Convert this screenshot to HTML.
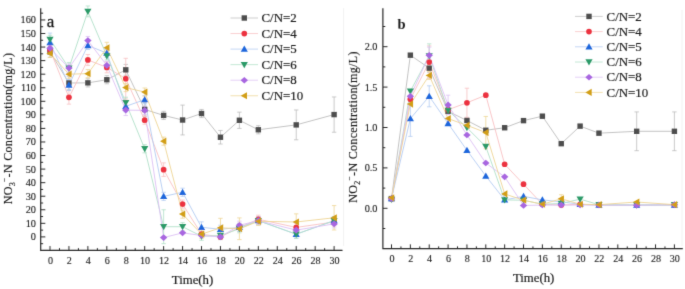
<!DOCTYPE html>
<html><head><meta charset="utf-8"><title>chart</title>
<style>html,body{margin:0;padding:0;background:#fff;width:685px;height:289px;overflow:hidden}svg{display:block}</style>
</head><body><svg width="685" height="289" viewBox="0 0 685 289">
<defs><filter id="bl" x="0" y="0" width="685" height="289" filterUnits="userSpaceOnUse"><feConvolveMatrix order="3" kernelMatrix="0.01134 0.08382 0.01134 0.08382 0.61935 0.08382 0.01134 0.08382 0.01134" divisor="1" edgeMode="duplicate" preserveAlpha="false"/></filter></defs>
<rect width="685" height="289" fill="#fff"/>
<g filter="url(#bl)">
<line x1="343.6" y1="8" x2="343.6" y2="246" stroke="#eeeeee" stroke-width="0.8"/>
<line x1="682" y1="10" x2="682" y2="246" stroke="#eeeeee" stroke-width="0.8"/>
<path d="M40.7,8.3V250.3H342.5" stroke="#2a2a2a" stroke-width="1.2" fill="none"/>
<line x1="40.7" y1="243.68" x2="43.1" y2="243.68" stroke="#2a2a2a" stroke-width="1"/>
<line x1="40.7" y1="236.90" x2="45.300000000000004" y2="236.90" stroke="#2a2a2a" stroke-width="1"/>
<text transform="translate(36.00,240.40) scale(1,1.1)" text-anchor="end" font-family="Liberation Serif, serif" font-size="10.3" fill="#1e1e1e" stroke="#1e1e1e" stroke-width="0.12">0</text>
<line x1="40.7" y1="230.12" x2="43.1" y2="230.12" stroke="#2a2a2a" stroke-width="1"/>
<line x1="40.7" y1="223.34" x2="45.300000000000004" y2="223.34" stroke="#2a2a2a" stroke-width="1"/>
<text transform="translate(36.00,226.84) scale(1,1.1)" text-anchor="end" font-family="Liberation Serif, serif" font-size="10.3" fill="#1e1e1e" stroke="#1e1e1e" stroke-width="0.12">10</text>
<line x1="40.7" y1="216.56" x2="43.1" y2="216.56" stroke="#2a2a2a" stroke-width="1"/>
<line x1="40.7" y1="209.78" x2="45.300000000000004" y2="209.78" stroke="#2a2a2a" stroke-width="1"/>
<text transform="translate(36.00,213.28) scale(1,1.1)" text-anchor="end" font-family="Liberation Serif, serif" font-size="10.3" fill="#1e1e1e" stroke="#1e1e1e" stroke-width="0.12">20</text>
<line x1="40.7" y1="203.00" x2="43.1" y2="203.00" stroke="#2a2a2a" stroke-width="1"/>
<line x1="40.7" y1="196.22" x2="45.300000000000004" y2="196.22" stroke="#2a2a2a" stroke-width="1"/>
<text transform="translate(36.00,199.72) scale(1,1.1)" text-anchor="end" font-family="Liberation Serif, serif" font-size="10.3" fill="#1e1e1e" stroke="#1e1e1e" stroke-width="0.12">30</text>
<line x1="40.7" y1="189.44" x2="43.1" y2="189.44" stroke="#2a2a2a" stroke-width="1"/>
<line x1="40.7" y1="182.66" x2="45.300000000000004" y2="182.66" stroke="#2a2a2a" stroke-width="1"/>
<text transform="translate(36.00,186.16) scale(1,1.1)" text-anchor="end" font-family="Liberation Serif, serif" font-size="10.3" fill="#1e1e1e" stroke="#1e1e1e" stroke-width="0.12">40</text>
<line x1="40.7" y1="175.88" x2="43.1" y2="175.88" stroke="#2a2a2a" stroke-width="1"/>
<line x1="40.7" y1="169.10" x2="45.300000000000004" y2="169.10" stroke="#2a2a2a" stroke-width="1"/>
<text transform="translate(36.00,172.60) scale(1,1.1)" text-anchor="end" font-family="Liberation Serif, serif" font-size="10.3" fill="#1e1e1e" stroke="#1e1e1e" stroke-width="0.12">50</text>
<line x1="40.7" y1="162.32" x2="43.1" y2="162.32" stroke="#2a2a2a" stroke-width="1"/>
<line x1="40.7" y1="155.54" x2="45.300000000000004" y2="155.54" stroke="#2a2a2a" stroke-width="1"/>
<text transform="translate(36.00,159.04) scale(1,1.1)" text-anchor="end" font-family="Liberation Serif, serif" font-size="10.3" fill="#1e1e1e" stroke="#1e1e1e" stroke-width="0.12">60</text>
<line x1="40.7" y1="148.76" x2="43.1" y2="148.76" stroke="#2a2a2a" stroke-width="1"/>
<line x1="40.7" y1="141.98" x2="45.300000000000004" y2="141.98" stroke="#2a2a2a" stroke-width="1"/>
<text transform="translate(36.00,145.48) scale(1,1.1)" text-anchor="end" font-family="Liberation Serif, serif" font-size="10.3" fill="#1e1e1e" stroke="#1e1e1e" stroke-width="0.12">70</text>
<line x1="40.7" y1="135.20" x2="43.1" y2="135.20" stroke="#2a2a2a" stroke-width="1"/>
<line x1="40.7" y1="128.42" x2="45.300000000000004" y2="128.42" stroke="#2a2a2a" stroke-width="1"/>
<text transform="translate(36.00,131.92) scale(1,1.1)" text-anchor="end" font-family="Liberation Serif, serif" font-size="10.3" fill="#1e1e1e" stroke="#1e1e1e" stroke-width="0.12">80</text>
<line x1="40.7" y1="121.64" x2="43.1" y2="121.64" stroke="#2a2a2a" stroke-width="1"/>
<line x1="40.7" y1="114.86" x2="45.300000000000004" y2="114.86" stroke="#2a2a2a" stroke-width="1"/>
<text transform="translate(36.00,118.36) scale(1,1.1)" text-anchor="end" font-family="Liberation Serif, serif" font-size="10.3" fill="#1e1e1e" stroke="#1e1e1e" stroke-width="0.12">90</text>
<line x1="40.7" y1="108.08" x2="43.1" y2="108.08" stroke="#2a2a2a" stroke-width="1"/>
<line x1="40.7" y1="101.30" x2="45.300000000000004" y2="101.30" stroke="#2a2a2a" stroke-width="1"/>
<text transform="translate(36.00,104.80) scale(1,1.1)" text-anchor="end" font-family="Liberation Serif, serif" font-size="10.3" fill="#1e1e1e" stroke="#1e1e1e" stroke-width="0.12">100</text>
<line x1="40.7" y1="94.52" x2="43.1" y2="94.52" stroke="#2a2a2a" stroke-width="1"/>
<line x1="40.7" y1="87.74" x2="45.300000000000004" y2="87.74" stroke="#2a2a2a" stroke-width="1"/>
<text transform="translate(36.00,91.24) scale(1,1.1)" text-anchor="end" font-family="Liberation Serif, serif" font-size="10.3" fill="#1e1e1e" stroke="#1e1e1e" stroke-width="0.12">110</text>
<line x1="40.7" y1="80.96" x2="43.1" y2="80.96" stroke="#2a2a2a" stroke-width="1"/>
<line x1="40.7" y1="74.18" x2="45.300000000000004" y2="74.18" stroke="#2a2a2a" stroke-width="1"/>
<text transform="translate(36.00,77.68) scale(1,1.1)" text-anchor="end" font-family="Liberation Serif, serif" font-size="10.3" fill="#1e1e1e" stroke="#1e1e1e" stroke-width="0.12">120</text>
<line x1="40.7" y1="67.40" x2="43.1" y2="67.40" stroke="#2a2a2a" stroke-width="1"/>
<line x1="40.7" y1="60.62" x2="45.300000000000004" y2="60.62" stroke="#2a2a2a" stroke-width="1"/>
<text transform="translate(36.00,64.12) scale(1,1.1)" text-anchor="end" font-family="Liberation Serif, serif" font-size="10.3" fill="#1e1e1e" stroke="#1e1e1e" stroke-width="0.12">130</text>
<line x1="40.7" y1="53.84" x2="43.1" y2="53.84" stroke="#2a2a2a" stroke-width="1"/>
<line x1="40.7" y1="47.06" x2="45.300000000000004" y2="47.06" stroke="#2a2a2a" stroke-width="1"/>
<text transform="translate(36.00,50.56) scale(1,1.1)" text-anchor="end" font-family="Liberation Serif, serif" font-size="10.3" fill="#1e1e1e" stroke="#1e1e1e" stroke-width="0.12">140</text>
<line x1="40.7" y1="40.28" x2="43.1" y2="40.28" stroke="#2a2a2a" stroke-width="1"/>
<line x1="40.7" y1="33.50" x2="45.300000000000004" y2="33.50" stroke="#2a2a2a" stroke-width="1"/>
<text transform="translate(36.00,37.00) scale(1,1.1)" text-anchor="end" font-family="Liberation Serif, serif" font-size="10.3" fill="#1e1e1e" stroke="#1e1e1e" stroke-width="0.12">150</text>
<line x1="40.7" y1="26.72" x2="43.1" y2="26.72" stroke="#2a2a2a" stroke-width="1"/>
<line x1="40.7" y1="19.94" x2="45.300000000000004" y2="19.94" stroke="#2a2a2a" stroke-width="1"/>
<text transform="translate(36.00,23.44) scale(1,1.1)" text-anchor="end" font-family="Liberation Serif, serif" font-size="10.3" fill="#1e1e1e" stroke="#1e1e1e" stroke-width="0.12">160</text>
<line x1="40.7" y1="13.16" x2="43.1" y2="13.16" stroke="#2a2a2a" stroke-width="1"/>
<line x1="50.00" y1="250.3" x2="50.00" y2="246.10000000000002" stroke="#2a2a2a" stroke-width="1"/>
<text transform="translate(50.40,263.70) scale(1,1.12)" text-anchor="middle" font-family="Liberation Serif, serif" font-size="10.1" fill="#1e1e1e" stroke="#1e1e1e" stroke-width="0.12">0</text>
<line x1="59.47" y1="250.3" x2="59.47" y2="248.10000000000002" stroke="#2a2a2a" stroke-width="1"/>
<line x1="68.94" y1="250.3" x2="68.94" y2="246.10000000000002" stroke="#2a2a2a" stroke-width="1"/>
<text transform="translate(69.34,263.70) scale(1,1.12)" text-anchor="middle" font-family="Liberation Serif, serif" font-size="10.1" fill="#1e1e1e" stroke="#1e1e1e" stroke-width="0.12">2</text>
<line x1="78.41" y1="250.3" x2="78.41" y2="248.10000000000002" stroke="#2a2a2a" stroke-width="1"/>
<line x1="87.88" y1="250.3" x2="87.88" y2="246.10000000000002" stroke="#2a2a2a" stroke-width="1"/>
<text transform="translate(88.28,263.70) scale(1,1.12)" text-anchor="middle" font-family="Liberation Serif, serif" font-size="10.1" fill="#1e1e1e" stroke="#1e1e1e" stroke-width="0.12">4</text>
<line x1="97.35" y1="250.3" x2="97.35" y2="248.10000000000002" stroke="#2a2a2a" stroke-width="1"/>
<line x1="106.82" y1="250.3" x2="106.82" y2="246.10000000000002" stroke="#2a2a2a" stroke-width="1"/>
<text transform="translate(107.22,263.70) scale(1,1.12)" text-anchor="middle" font-family="Liberation Serif, serif" font-size="10.1" fill="#1e1e1e" stroke="#1e1e1e" stroke-width="0.12">6</text>
<line x1="116.29" y1="250.3" x2="116.29" y2="248.10000000000002" stroke="#2a2a2a" stroke-width="1"/>
<line x1="125.76" y1="250.3" x2="125.76" y2="246.10000000000002" stroke="#2a2a2a" stroke-width="1"/>
<text transform="translate(126.16,263.70) scale(1,1.12)" text-anchor="middle" font-family="Liberation Serif, serif" font-size="10.1" fill="#1e1e1e" stroke="#1e1e1e" stroke-width="0.12">8</text>
<line x1="135.23" y1="250.3" x2="135.23" y2="248.10000000000002" stroke="#2a2a2a" stroke-width="1"/>
<line x1="144.70" y1="250.3" x2="144.70" y2="246.10000000000002" stroke="#2a2a2a" stroke-width="1"/>
<text transform="translate(145.10,263.70) scale(1,1.12)" text-anchor="middle" font-family="Liberation Serif, serif" font-size="10.1" fill="#1e1e1e" stroke="#1e1e1e" stroke-width="0.12">10</text>
<line x1="154.17" y1="250.3" x2="154.17" y2="248.10000000000002" stroke="#2a2a2a" stroke-width="1"/>
<line x1="163.64" y1="250.3" x2="163.64" y2="246.10000000000002" stroke="#2a2a2a" stroke-width="1"/>
<text transform="translate(164.04,263.70) scale(1,1.12)" text-anchor="middle" font-family="Liberation Serif, serif" font-size="10.1" fill="#1e1e1e" stroke="#1e1e1e" stroke-width="0.12">12</text>
<line x1="173.11" y1="250.3" x2="173.11" y2="248.10000000000002" stroke="#2a2a2a" stroke-width="1"/>
<line x1="182.58" y1="250.3" x2="182.58" y2="246.10000000000002" stroke="#2a2a2a" stroke-width="1"/>
<text transform="translate(182.98,263.70) scale(1,1.12)" text-anchor="middle" font-family="Liberation Serif, serif" font-size="10.1" fill="#1e1e1e" stroke="#1e1e1e" stroke-width="0.12">14</text>
<line x1="192.05" y1="250.3" x2="192.05" y2="248.10000000000002" stroke="#2a2a2a" stroke-width="1"/>
<line x1="201.52" y1="250.3" x2="201.52" y2="246.10000000000002" stroke="#2a2a2a" stroke-width="1"/>
<text transform="translate(201.92,263.70) scale(1,1.12)" text-anchor="middle" font-family="Liberation Serif, serif" font-size="10.1" fill="#1e1e1e" stroke="#1e1e1e" stroke-width="0.12">16</text>
<line x1="210.99" y1="250.3" x2="210.99" y2="248.10000000000002" stroke="#2a2a2a" stroke-width="1"/>
<line x1="220.46" y1="250.3" x2="220.46" y2="246.10000000000002" stroke="#2a2a2a" stroke-width="1"/>
<text transform="translate(220.86,263.70) scale(1,1.12)" text-anchor="middle" font-family="Liberation Serif, serif" font-size="10.1" fill="#1e1e1e" stroke="#1e1e1e" stroke-width="0.12">18</text>
<line x1="229.93" y1="250.3" x2="229.93" y2="248.10000000000002" stroke="#2a2a2a" stroke-width="1"/>
<line x1="239.40" y1="250.3" x2="239.40" y2="246.10000000000002" stroke="#2a2a2a" stroke-width="1"/>
<text transform="translate(239.80,263.70) scale(1,1.12)" text-anchor="middle" font-family="Liberation Serif, serif" font-size="10.1" fill="#1e1e1e" stroke="#1e1e1e" stroke-width="0.12">20</text>
<line x1="248.87" y1="250.3" x2="248.87" y2="248.10000000000002" stroke="#2a2a2a" stroke-width="1"/>
<line x1="258.34" y1="250.3" x2="258.34" y2="246.10000000000002" stroke="#2a2a2a" stroke-width="1"/>
<text transform="translate(258.74,263.70) scale(1,1.12)" text-anchor="middle" font-family="Liberation Serif, serif" font-size="10.1" fill="#1e1e1e" stroke="#1e1e1e" stroke-width="0.12">22</text>
<line x1="267.81" y1="250.3" x2="267.81" y2="248.10000000000002" stroke="#2a2a2a" stroke-width="1"/>
<line x1="277.28" y1="250.3" x2="277.28" y2="246.10000000000002" stroke="#2a2a2a" stroke-width="1"/>
<text transform="translate(277.68,263.70) scale(1,1.12)" text-anchor="middle" font-family="Liberation Serif, serif" font-size="10.1" fill="#1e1e1e" stroke="#1e1e1e" stroke-width="0.12">24</text>
<line x1="286.75" y1="250.3" x2="286.75" y2="248.10000000000002" stroke="#2a2a2a" stroke-width="1"/>
<line x1="296.22" y1="250.3" x2="296.22" y2="246.10000000000002" stroke="#2a2a2a" stroke-width="1"/>
<text transform="translate(296.62,263.70) scale(1,1.12)" text-anchor="middle" font-family="Liberation Serif, serif" font-size="10.1" fill="#1e1e1e" stroke="#1e1e1e" stroke-width="0.12">26</text>
<line x1="305.69" y1="250.3" x2="305.69" y2="248.10000000000002" stroke="#2a2a2a" stroke-width="1"/>
<line x1="315.16" y1="250.3" x2="315.16" y2="246.10000000000002" stroke="#2a2a2a" stroke-width="1"/>
<text transform="translate(315.56,263.70) scale(1,1.12)" text-anchor="middle" font-family="Liberation Serif, serif" font-size="10.1" fill="#1e1e1e" stroke="#1e1e1e" stroke-width="0.12">28</text>
<line x1="324.63" y1="250.3" x2="324.63" y2="248.10000000000002" stroke="#2a2a2a" stroke-width="1"/>
<line x1="334.10" y1="250.3" x2="334.10" y2="246.10000000000002" stroke="#2a2a2a" stroke-width="1"/>
<text transform="translate(334.50,263.70) scale(1,1.12)" text-anchor="middle" font-family="Liberation Serif, serif" font-size="10.1" fill="#1e1e1e" stroke="#1e1e1e" stroke-width="0.12">30</text>
<text transform="translate(171.80,284.20) scale(1,1.03)" text-anchor="start" font-family="Liberation Serif, serif" font-size="12.8" fill="#1e1e1e" stroke="#1e1e1e" stroke-width="0.2">Time(h)</text>
<text x="46.7" y="26.6" font-family="Liberation Serif, serif" font-size="17" fill="#1a1a1a" stroke="#1a1a1a" stroke-width="0.3">a</text>
<text transform="translate(12.4,128.5) rotate(-90) scale(0.93,1)" text-anchor="middle" font-family="Liberation Serif, serif" font-size="13.0" letter-spacing="0.3" fill="#1e1e1e" stroke="#1e1e1e" stroke-width="0.15">NO<tspan font-size="8.6" dy="3.0">3</tspan><tspan font-size="8" dy="-8.0" dx="0">−</tspan><tspan dy="5.0" dx="0">-N Concentration(mg/L)</tspan></text>
<polyline points="50.00,51.81 68.94,82.99 87.88,82.86 106.82,79.74 125.76,69.84 144.70,109.44 163.64,115.40 182.58,120.01 201.52,113.50 220.46,137.23 239.40,120.28 258.34,129.78 296.22,124.89 334.10,114.59" fill="none" stroke="#bcbcbc" stroke-width="0.9"/>
<polyline points="50.00,49.77 68.94,97.37 87.88,59.94 106.82,67.40 125.76,78.65 144.70,120.15 163.64,169.64 182.58,204.08 201.52,234.19 220.46,236.90 239.40,227.41 258.34,219.27 296.22,227.41 334.10,221.98" fill="none" stroke="#f8c0c2" stroke-width="0.9"/>
<polyline points="50.00,42.59 68.94,85.03 87.88,45.43 106.82,53.16 125.76,106.32 144.70,99.67 163.64,196.36 182.58,192.29 201.52,227.27 220.46,229.31 239.40,227.41 258.34,220.63 296.22,234.19 334.10,220.63" fill="none" stroke="#b2cbf2" stroke-width="0.9"/>
<polyline points="50.00,39.33 68.94,68.08 87.88,11.40 106.82,55.87 125.76,102.66 144.70,148.76 163.64,226.73 182.58,226.73 201.52,236.22 220.46,235.54 239.40,228.76 258.34,220.63 296.22,234.19 334.10,220.63" fill="none" stroke="#b0e0c8" stroke-width="0.9"/>
<polyline points="50.00,48.14 68.94,68.08 87.88,40.55 106.82,65.37 125.76,110.11 144.70,110.39 163.64,237.58 182.58,232.83 201.52,235.54 220.46,236.90 239.40,225.24 258.34,220.63 296.22,230.12 334.10,223.88" fill="none" stroke="#dcc0f4" stroke-width="0.9"/>
<polyline points="50.00,53.43 68.94,74.18 87.88,73.64 106.82,47.74 125.76,87.60 144.70,92.08 163.64,141.17 182.58,214.12 201.52,234.19 220.46,227.81 239.40,228.76 258.34,221.31 296.22,221.98 334.10,217.78" fill="none" stroke="#eed594" stroke-width="0.9"/>
<path d="M50.00,46.38V57.23M47.80,46.38H52.20M47.80,57.23H52.20" stroke="#bcbcbc" stroke-width="0.8" fill="none"/>
<path d="M68.94,76.21V89.77M66.74,76.21H71.14M66.74,89.77H71.14" stroke="#bcbcbc" stroke-width="0.8" fill="none"/>
<path d="M87.88,78.79V86.93M85.68,78.79H90.08M85.68,86.93H90.08" stroke="#bcbcbc" stroke-width="0.8" fill="none"/>
<path d="M106.82,75.67V83.81M104.62,75.67H109.02M104.62,83.81H109.02" stroke="#bcbcbc" stroke-width="0.8" fill="none"/>
<path d="M125.76,64.42V75.26M123.56,64.42H127.96M123.56,75.26H127.96" stroke="#bcbcbc" stroke-width="0.8" fill="none"/>
<path d="M144.70,102.66V116.22M142.50,102.66H146.90M142.50,116.22H146.90" stroke="#bcbcbc" stroke-width="0.8" fill="none"/>
<path d="M163.64,111.33V119.47M161.44,111.33H165.84M161.44,119.47H165.84" stroke="#bcbcbc" stroke-width="0.8" fill="none"/>
<path d="M182.58,105.10V134.93M180.38,105.10H184.78M180.38,134.93H184.78" stroke="#bcbcbc" stroke-width="0.8" fill="none"/>
<path d="M201.52,109.44V117.57M199.32,109.44H203.72M199.32,117.57H203.72" stroke="#bcbcbc" stroke-width="0.8" fill="none"/>
<path d="M220.46,130.45V144.01M218.26,130.45H222.66M218.26,144.01H222.66" stroke="#bcbcbc" stroke-width="0.8" fill="none"/>
<path d="M239.40,112.15V128.42M237.20,112.15H241.60M237.20,128.42H241.60" stroke="#bcbcbc" stroke-width="0.8" fill="none"/>
<path d="M258.34,125.71V133.84M256.14,125.71H260.54M256.14,133.84H260.54" stroke="#bcbcbc" stroke-width="0.8" fill="none"/>
<path d="M296.22,109.98V139.81M294.02,109.98H298.42M294.02,139.81H298.42" stroke="#bcbcbc" stroke-width="0.8" fill="none"/>
<path d="M334.10,96.96V132.22M331.90,96.96H336.30M331.90,132.22H336.30" stroke="#bcbcbc" stroke-width="0.8" fill="none"/>
<path d="M50.00,45.70V53.84M47.80,45.70H52.20M47.80,53.84H52.20" stroke="#f8c0c2" stroke-width="0.8" fill="none"/>
<path d="M68.94,90.59V104.15M66.74,90.59H71.14M66.74,104.15H71.14" stroke="#f8c0c2" stroke-width="0.8" fill="none"/>
<path d="M87.88,54.52V65.37M85.68,54.52H90.08M85.68,65.37H90.08" stroke="#f8c0c2" stroke-width="0.8" fill="none"/>
<path d="M106.82,61.98V72.82M104.62,61.98H109.02M104.62,72.82H109.02" stroke="#f8c0c2" stroke-width="0.8" fill="none"/>
<path d="M125.76,58.31V98.99M123.56,58.31H127.96M123.56,98.99H127.96" stroke="#f8c0c2" stroke-width="0.8" fill="none"/>
<path d="M144.70,116.08V124.22M142.50,116.08H146.90M142.50,124.22H146.90" stroke="#f8c0c2" stroke-width="0.8" fill="none"/>
<path d="M163.64,162.86V176.42M161.44,162.86H165.84M161.44,176.42H165.84" stroke="#f8c0c2" stroke-width="0.8" fill="none"/>
<path d="M182.58,200.02V208.15M180.38,200.02H184.78M180.38,208.15H184.78" stroke="#f8c0c2" stroke-width="0.8" fill="none"/>
<path d="M239.40,223.34V231.48M237.20,223.34H241.60M237.20,231.48H241.60" stroke="#f8c0c2" stroke-width="0.8" fill="none"/>
<path d="M258.34,215.20V223.34M256.14,215.20H260.54M256.14,223.34H260.54" stroke="#f8c0c2" stroke-width="0.8" fill="none"/>
<path d="M296.22,223.34V231.48M294.02,223.34H298.42M294.02,231.48H298.42" stroke="#f8c0c2" stroke-width="0.8" fill="none"/>
<path d="M334.10,217.92V226.05M331.90,217.92H336.30M331.90,226.05H336.30" stroke="#f8c0c2" stroke-width="0.8" fill="none"/>
<path d="M50.00,33.09V52.08M47.80,33.09H52.20M47.80,52.08H52.20" stroke="#b2cbf2" stroke-width="0.8" fill="none"/>
<path d="M68.94,79.60V90.45M66.74,79.60H71.14M66.74,90.45H71.14" stroke="#b2cbf2" stroke-width="0.8" fill="none"/>
<path d="M87.88,41.36V49.50M85.68,41.36H90.08M85.68,49.50H90.08" stroke="#b2cbf2" stroke-width="0.8" fill="none"/>
<path d="M106.82,49.09V57.23M104.62,49.09H109.02M104.62,57.23H109.02" stroke="#b2cbf2" stroke-width="0.8" fill="none"/>
<path d="M125.76,100.89V111.74M123.56,100.89H127.96M123.56,111.74H127.96" stroke="#b2cbf2" stroke-width="0.8" fill="none"/>
<path d="M144.70,95.60V103.74M142.50,95.60H146.90M142.50,103.74H146.90" stroke="#b2cbf2" stroke-width="0.8" fill="none"/>
<path d="M163.64,192.29V200.42M161.44,192.29H165.84M161.44,200.42H165.84" stroke="#b2cbf2" stroke-width="0.8" fill="none"/>
<path d="M182.58,188.22V196.36M180.38,188.22H184.78M180.38,196.36H184.78" stroke="#b2cbf2" stroke-width="0.8" fill="none"/>
<path d="M201.52,221.85V232.70M199.32,221.85H203.72M199.32,232.70H203.72" stroke="#b2cbf2" stroke-width="0.8" fill="none"/>
<path d="M220.46,225.24V233.37M218.26,225.24H222.66M218.26,233.37H222.66" stroke="#b2cbf2" stroke-width="0.8" fill="none"/>
<path d="M239.40,223.34V231.48M237.20,223.34H241.60M237.20,231.48H241.60" stroke="#b2cbf2" stroke-width="0.8" fill="none"/>
<path d="M258.34,216.56V224.70M256.14,216.56H260.54M256.14,224.70H260.54" stroke="#b2cbf2" stroke-width="0.8" fill="none"/>
<path d="M296.22,230.12V238.26M294.02,230.12H298.42M294.02,238.26H298.42" stroke="#b2cbf2" stroke-width="0.8" fill="none"/>
<path d="M334.10,216.56V224.70M331.90,216.56H336.30M331.90,224.70H336.30" stroke="#b2cbf2" stroke-width="0.8" fill="none"/>
<path d="M50.00,35.26V43.40M47.80,35.26H52.20M47.80,43.40H52.20" stroke="#b0e0c8" stroke-width="0.8" fill="none"/>
<path d="M68.94,62.65V73.50M66.74,62.65H71.14M66.74,73.50H71.14" stroke="#b0e0c8" stroke-width="0.8" fill="none"/>
<path d="M87.88,5.97V16.82M85.68,5.97H90.08M85.68,16.82H90.08" stroke="#b0e0c8" stroke-width="0.8" fill="none"/>
<path d="M106.82,51.81V59.94M104.62,51.81H109.02M104.62,59.94H109.02" stroke="#b0e0c8" stroke-width="0.8" fill="none"/>
<path d="M125.76,97.23V108.08M123.56,97.23H127.96M123.56,108.08H127.96" stroke="#b0e0c8" stroke-width="0.8" fill="none"/>
<path d="M144.70,144.69V152.83M142.50,144.69H146.90M142.50,152.83H146.90" stroke="#b0e0c8" stroke-width="0.8" fill="none"/>
<path d="M163.64,209.78V243.68M161.44,209.78H165.84M161.44,243.68H165.84" stroke="#b0e0c8" stroke-width="0.8" fill="none"/>
<path d="M182.58,222.66V230.80M180.38,222.66H184.78M180.38,230.80H184.78" stroke="#b0e0c8" stroke-width="0.8" fill="none"/>
<path d="M201.52,232.15V240.29M199.32,232.15H203.72M199.32,240.29H203.72" stroke="#b0e0c8" stroke-width="0.8" fill="none"/>
<path d="M220.46,231.48V239.61M218.26,231.48H222.66M218.26,239.61H222.66" stroke="#b0e0c8" stroke-width="0.8" fill="none"/>
<path d="M239.40,224.70V232.83M237.20,224.70H241.60M237.20,232.83H241.60" stroke="#b0e0c8" stroke-width="0.8" fill="none"/>
<path d="M258.34,216.56V224.70M256.14,216.56H260.54M256.14,224.70H260.54" stroke="#b0e0c8" stroke-width="0.8" fill="none"/>
<path d="M296.22,230.12V238.26M294.02,230.12H298.42M294.02,238.26H298.42" stroke="#b0e0c8" stroke-width="0.8" fill="none"/>
<path d="M334.10,216.56V224.70M331.90,216.56H336.30M331.90,224.70H336.30" stroke="#b0e0c8" stroke-width="0.8" fill="none"/>
<path d="M50.00,44.08V52.21M47.80,44.08H52.20M47.80,52.21H52.20" stroke="#dcc0f4" stroke-width="0.8" fill="none"/>
<path d="M68.94,64.01V72.15M66.74,64.01H71.14M66.74,72.15H71.14" stroke="#dcc0f4" stroke-width="0.8" fill="none"/>
<path d="M87.88,36.48V44.62M85.68,36.48H90.08M85.68,44.62H90.08" stroke="#dcc0f4" stroke-width="0.8" fill="none"/>
<path d="M106.82,61.30V69.43M104.62,61.30H109.02M104.62,69.43H109.02" stroke="#dcc0f4" stroke-width="0.8" fill="none"/>
<path d="M125.76,104.69V115.54M123.56,104.69H127.96M123.56,115.54H127.96" stroke="#dcc0f4" stroke-width="0.8" fill="none"/>
<path d="M144.70,106.32V114.45M142.50,106.32H146.90M142.50,114.45H146.90" stroke="#dcc0f4" stroke-width="0.8" fill="none"/>
<path d="M239.40,221.17V229.31M237.20,221.17H241.60M237.20,229.31H241.60" stroke="#dcc0f4" stroke-width="0.8" fill="none"/>
<path d="M258.34,216.56V224.70M256.14,216.56H260.54M256.14,224.70H260.54" stroke="#dcc0f4" stroke-width="0.8" fill="none"/>
<path d="M296.22,226.05V234.19M294.02,226.05H298.42M294.02,234.19H298.42" stroke="#dcc0f4" stroke-width="0.8" fill="none"/>
<path d="M334.10,219.81V227.95M331.90,219.81H336.30M331.90,227.95H336.30" stroke="#dcc0f4" stroke-width="0.8" fill="none"/>
<path d="M50.00,49.37V57.50M47.80,49.37H52.20M47.80,57.50H52.20" stroke="#eed594" stroke-width="0.8" fill="none"/>
<path d="M68.94,70.11V78.25M66.74,70.11H71.14M66.74,78.25H71.14" stroke="#eed594" stroke-width="0.8" fill="none"/>
<path d="M87.88,69.57V77.71M85.68,69.57H90.08M85.68,77.71H90.08" stroke="#eed594" stroke-width="0.8" fill="none"/>
<path d="M106.82,42.31V53.16M104.62,42.31H109.02M104.62,53.16H109.02" stroke="#eed594" stroke-width="0.8" fill="none"/>
<path d="M125.76,83.54V91.67M123.56,83.54H127.96M123.56,91.67H127.96" stroke="#eed594" stroke-width="0.8" fill="none"/>
<path d="M144.70,88.01V96.15M142.50,88.01H146.90M142.50,96.15H146.90" stroke="#eed594" stroke-width="0.8" fill="none"/>
<path d="M163.64,137.10V145.23M161.44,137.10H165.84M161.44,145.23H165.84" stroke="#eed594" stroke-width="0.8" fill="none"/>
<path d="M182.58,210.05V218.19M180.38,210.05H184.78M180.38,218.19H184.78" stroke="#eed594" stroke-width="0.8" fill="none"/>
<path d="M201.52,230.12V238.26M199.32,230.12H203.72M199.32,238.26H203.72" stroke="#eed594" stroke-width="0.8" fill="none"/>
<path d="M220.46,218.32V237.31M218.26,218.32H222.66M218.26,237.31H222.66" stroke="#eed594" stroke-width="0.8" fill="none"/>
<path d="M239.40,217.92V239.61M237.20,217.92H241.60M237.20,239.61H241.60" stroke="#eed594" stroke-width="0.8" fill="none"/>
<path d="M258.34,217.24V225.37M256.14,217.24H260.54M256.14,225.37H260.54" stroke="#eed594" stroke-width="0.8" fill="none"/>
<path d="M296.22,213.85V230.12M294.02,213.85H298.42M294.02,230.12H298.42" stroke="#eed594" stroke-width="0.8" fill="none"/>
<path d="M334.10,205.58V229.98M331.90,205.58H336.30M331.90,229.98H336.30" stroke="#eed594" stroke-width="0.8" fill="none"/>
<rect x="47.30" y="49.11" width="5.40" height="5.40" fill="#4d4d4d"/>
<rect x="66.24" y="80.29" width="5.40" height="5.40" fill="#4d4d4d"/>
<rect x="85.18" y="80.16" width="5.40" height="5.40" fill="#4d4d4d"/>
<rect x="104.12" y="77.04" width="5.40" height="5.40" fill="#4d4d4d"/>
<rect x="123.06" y="67.14" width="5.40" height="5.40" fill="#4d4d4d"/>
<rect x="142.00" y="106.74" width="5.40" height="5.40" fill="#4d4d4d"/>
<rect x="160.94" y="112.70" width="5.40" height="5.40" fill="#4d4d4d"/>
<rect x="179.88" y="117.31" width="5.40" height="5.40" fill="#4d4d4d"/>
<rect x="198.82" y="110.80" width="5.40" height="5.40" fill="#4d4d4d"/>
<rect x="217.76" y="134.53" width="5.40" height="5.40" fill="#4d4d4d"/>
<rect x="236.70" y="117.58" width="5.40" height="5.40" fill="#4d4d4d"/>
<rect x="255.64" y="127.08" width="5.40" height="5.40" fill="#4d4d4d"/>
<rect x="293.52" y="122.19" width="5.40" height="5.40" fill="#4d4d4d"/>
<rect x="331.40" y="111.89" width="5.40" height="5.40" fill="#4d4d4d"/>
<circle cx="50.00" cy="49.77" r="2.85" fill="#ec3340"/>
<circle cx="68.94" cy="97.37" r="2.85" fill="#ec3340"/>
<circle cx="87.88" cy="59.94" r="2.85" fill="#ec3340"/>
<circle cx="106.82" cy="67.40" r="2.85" fill="#ec3340"/>
<circle cx="125.76" cy="78.65" r="2.85" fill="#ec3340"/>
<circle cx="144.70" cy="120.15" r="2.85" fill="#ec3340"/>
<circle cx="163.64" cy="169.64" r="2.85" fill="#ec3340"/>
<circle cx="182.58" cy="204.08" r="2.85" fill="#ec3340"/>
<circle cx="201.52" cy="234.19" r="2.85" fill="#ec3340"/>
<circle cx="220.46" cy="236.90" r="2.85" fill="#ec3340"/>
<circle cx="239.40" cy="227.41" r="2.85" fill="#ec3340"/>
<circle cx="258.34" cy="219.27" r="2.85" fill="#ec3340"/>
<circle cx="296.22" cy="227.41" r="2.85" fill="#ec3340"/>
<circle cx="334.10" cy="221.98" r="2.85" fill="#ec3340"/>
<path d="M50.00,38.99L53.60,45.29L46.40,45.29Z" fill="#1c66dc"/>
<path d="M68.94,81.43L72.54,87.73L65.34,87.73Z" fill="#1c66dc"/>
<path d="M87.88,41.83L91.48,48.13L84.28,48.13Z" fill="#1c66dc"/>
<path d="M106.82,49.56L110.42,55.86L103.22,55.86Z" fill="#1c66dc"/>
<path d="M125.76,102.72L129.36,109.02L122.16,109.02Z" fill="#1c66dc"/>
<path d="M144.70,96.07L148.30,102.37L141.10,102.37Z" fill="#1c66dc"/>
<path d="M163.64,192.76L167.24,199.06L160.04,199.06Z" fill="#1c66dc"/>
<path d="M182.58,188.69L186.18,194.99L178.98,194.99Z" fill="#1c66dc"/>
<path d="M201.52,223.67L205.12,229.97L197.92,229.97Z" fill="#1c66dc"/>
<path d="M220.46,225.71L224.06,232.01L216.86,232.01Z" fill="#1c66dc"/>
<path d="M239.40,223.81L243.00,230.11L235.80,230.11Z" fill="#1c66dc"/>
<path d="M258.34,217.03L261.94,223.33L254.74,223.33Z" fill="#1c66dc"/>
<path d="M296.22,230.59L299.82,236.89L292.62,236.89Z" fill="#1c66dc"/>
<path d="M334.10,217.03L337.70,223.33L330.50,223.33Z" fill="#1c66dc"/>
<path d="M50.00,42.93L53.60,36.63L46.40,36.63Z" fill="#2a9a68"/>
<path d="M68.94,71.68L72.54,65.38L65.34,65.38Z" fill="#2a9a68"/>
<path d="M87.88,15.00L91.48,8.70L84.28,8.70Z" fill="#2a9a68"/>
<path d="M106.82,59.47L110.42,53.17L103.22,53.17Z" fill="#2a9a68"/>
<path d="M125.76,106.26L129.36,99.96L122.16,99.96Z" fill="#2a9a68"/>
<path d="M144.70,152.36L148.30,146.06L141.10,146.06Z" fill="#2a9a68"/>
<path d="M163.64,230.33L167.24,224.03L160.04,224.03Z" fill="#2a9a68"/>
<path d="M182.58,230.33L186.18,224.03L178.98,224.03Z" fill="#2a9a68"/>
<path d="M201.52,239.82L205.12,233.52L197.92,233.52Z" fill="#2a9a68"/>
<path d="M220.46,239.14L224.06,232.84L216.86,232.84Z" fill="#2a9a68"/>
<path d="M239.40,232.36L243.00,226.06L235.80,226.06Z" fill="#2a9a68"/>
<path d="M258.34,224.23L261.94,217.93L254.74,217.93Z" fill="#2a9a68"/>
<path d="M296.22,237.79L299.82,231.49L292.62,231.49Z" fill="#2a9a68"/>
<path d="M334.10,224.23L337.70,217.93L330.50,217.93Z" fill="#2a9a68"/>
<path d="M50.00,44.84L53.70,48.14L50.00,51.44L46.30,48.14Z" fill="#a866e0"/>
<path d="M68.94,64.78L72.64,68.08L68.94,71.38L65.24,68.08Z" fill="#a866e0"/>
<path d="M87.88,37.25L91.58,40.55L87.88,43.85L84.18,40.55Z" fill="#a866e0"/>
<path d="M106.82,62.07L110.52,65.37L106.82,68.67L103.12,65.37Z" fill="#a866e0"/>
<path d="M125.76,106.81L129.46,110.11L125.76,113.41L122.06,110.11Z" fill="#a866e0"/>
<path d="M144.70,107.09L148.40,110.39L144.70,113.69L141.00,110.39Z" fill="#a866e0"/>
<path d="M163.64,234.28L167.34,237.58L163.64,240.88L159.94,237.58Z" fill="#a866e0"/>
<path d="M182.58,229.53L186.28,232.83L182.58,236.13L178.88,232.83Z" fill="#a866e0"/>
<path d="M201.52,232.24L205.22,235.54L201.52,238.84L197.82,235.54Z" fill="#a866e0"/>
<path d="M220.46,233.60L224.16,236.90L220.46,240.20L216.76,236.90Z" fill="#a866e0"/>
<path d="M239.40,221.94L243.10,225.24L239.40,228.54L235.70,225.24Z" fill="#a866e0"/>
<path d="M258.34,217.33L262.04,220.63L258.34,223.93L254.64,220.63Z" fill="#a866e0"/>
<path d="M296.22,226.82L299.92,230.12L296.22,233.42L292.52,230.12Z" fill="#a866e0"/>
<path d="M334.10,220.58L337.80,223.88L334.10,227.18L330.40,223.88Z" fill="#a866e0"/>
<path d="M46.40,53.43L52.70,49.83L52.70,57.03Z" fill="#d29e12"/>
<path d="M65.34,74.18L71.64,70.58L71.64,77.78Z" fill="#d29e12"/>
<path d="M84.28,73.64L90.58,70.04L90.58,77.24Z" fill="#d29e12"/>
<path d="M103.22,47.74L109.52,44.14L109.52,51.34Z" fill="#d29e12"/>
<path d="M122.16,87.60L128.46,84.00L128.46,91.20Z" fill="#d29e12"/>
<path d="M141.10,92.08L147.40,88.48L147.40,95.68Z" fill="#d29e12"/>
<path d="M160.04,141.17L166.34,137.57L166.34,144.77Z" fill="#d29e12"/>
<path d="M178.98,214.12L185.28,210.52L185.28,217.72Z" fill="#d29e12"/>
<path d="M197.92,234.19L204.22,230.59L204.22,237.79Z" fill="#d29e12"/>
<path d="M216.86,227.81L223.16,224.21L223.16,231.41Z" fill="#d29e12"/>
<path d="M235.80,228.76L242.10,225.16L242.10,232.36Z" fill="#d29e12"/>
<path d="M254.74,221.31L261.04,217.71L261.04,224.91Z" fill="#d29e12"/>
<path d="M292.62,221.98L298.92,218.38L298.92,225.58Z" fill="#d29e12"/>
<path d="M330.50,217.78L336.80,214.18L336.80,221.38Z" fill="#d29e12"/>
<line x1="230.5" y1="18.00" x2="258" y2="18.00" stroke="#bcbcbc" stroke-width="0.75"/>
<rect x="241.60" y="15.30" width="5.40" height="5.40" fill="#4d4d4d"/>
<text x="261.5" y="22.20" font-family="Liberation Serif, serif" font-size="12.9" fill="#1e1e1e" stroke="#1e1e1e" stroke-width="0.2">C/N=2</text>
<line x1="230.5" y1="33.55" x2="258" y2="33.55" stroke="#f8c0c2" stroke-width="0.75"/>
<circle cx="244.30" cy="33.55" r="2.85" fill="#ec3340"/>
<text x="261.5" y="37.75" font-family="Liberation Serif, serif" font-size="12.9" fill="#1e1e1e" stroke="#1e1e1e" stroke-width="0.2">C/N=4</text>
<line x1="230.5" y1="49.10" x2="258" y2="49.10" stroke="#b2cbf2" stroke-width="0.75"/>
<path d="M244.30,45.50L247.90,51.80L240.70,51.80Z" fill="#1c66dc"/>
<text x="261.5" y="53.30" font-family="Liberation Serif, serif" font-size="12.9" fill="#1e1e1e" stroke="#1e1e1e" stroke-width="0.2">C/N=5</text>
<line x1="230.5" y1="64.65" x2="258" y2="64.65" stroke="#b0e0c8" stroke-width="0.75"/>
<path d="M244.30,68.25L247.90,61.95L240.70,61.95Z" fill="#2a9a68"/>
<text x="261.5" y="68.85" font-family="Liberation Serif, serif" font-size="12.9" fill="#1e1e1e" stroke="#1e1e1e" stroke-width="0.2">C/N=6</text>
<line x1="230.5" y1="80.20" x2="258" y2="80.20" stroke="#dcc0f4" stroke-width="0.75"/>
<path d="M244.30,76.90L248.00,80.20L244.30,83.50L240.60,80.20Z" fill="#a866e0"/>
<text x="261.5" y="84.40" font-family="Liberation Serif, serif" font-size="12.9" fill="#1e1e1e" stroke="#1e1e1e" stroke-width="0.2">C/N=8</text>
<line x1="230.5" y1="95.75" x2="258" y2="95.75" stroke="#eed594" stroke-width="0.75"/>
<path d="M240.70,95.75L247.00,92.15L247.00,99.35Z" fill="#d29e12"/>
<text x="261.5" y="99.95" font-family="Liberation Serif, serif" font-size="12.9" fill="#1e1e1e" stroke="#1e1e1e" stroke-width="0.2">C/N=10</text>
<path d="M382.9,8.3V248.6H682.8" stroke="#2a2a2a" stroke-width="1.2" fill="none"/>
<line x1="382.9" y1="228.50" x2="385.29999999999995" y2="228.50" stroke="#2a2a2a" stroke-width="1"/>
<line x1="382.9" y1="208.30" x2="387.5" y2="208.30" stroke="#2a2a2a" stroke-width="1"/>
<text transform="translate(377.50,211.80) scale(1,1.1)" text-anchor="end" font-family="Liberation Serif, serif" font-size="10.3" fill="#1e1e1e" stroke="#1e1e1e" stroke-width="0.12">0.0</text>
<line x1="382.9" y1="188.10" x2="385.29999999999995" y2="188.10" stroke="#2a2a2a" stroke-width="1"/>
<line x1="382.9" y1="167.90" x2="387.5" y2="167.90" stroke="#2a2a2a" stroke-width="1"/>
<text transform="translate(377.50,171.40) scale(1,1.1)" text-anchor="end" font-family="Liberation Serif, serif" font-size="10.3" fill="#1e1e1e" stroke="#1e1e1e" stroke-width="0.12">0.5</text>
<line x1="382.9" y1="147.70" x2="385.29999999999995" y2="147.70" stroke="#2a2a2a" stroke-width="1"/>
<line x1="382.9" y1="127.50" x2="387.5" y2="127.50" stroke="#2a2a2a" stroke-width="1"/>
<text transform="translate(377.50,131.00) scale(1,1.1)" text-anchor="end" font-family="Liberation Serif, serif" font-size="10.3" fill="#1e1e1e" stroke="#1e1e1e" stroke-width="0.12">1.0</text>
<line x1="382.9" y1="107.30" x2="385.29999999999995" y2="107.30" stroke="#2a2a2a" stroke-width="1"/>
<line x1="382.9" y1="87.10" x2="387.5" y2="87.10" stroke="#2a2a2a" stroke-width="1"/>
<text transform="translate(377.50,90.60) scale(1,1.1)" text-anchor="end" font-family="Liberation Serif, serif" font-size="10.3" fill="#1e1e1e" stroke="#1e1e1e" stroke-width="0.12">1.5</text>
<line x1="382.9" y1="66.90" x2="385.29999999999995" y2="66.90" stroke="#2a2a2a" stroke-width="1"/>
<line x1="382.9" y1="46.70" x2="387.5" y2="46.70" stroke="#2a2a2a" stroke-width="1"/>
<text transform="translate(377.50,50.20) scale(1,1.1)" text-anchor="end" font-family="Liberation Serif, serif" font-size="10.3" fill="#1e1e1e" stroke="#1e1e1e" stroke-width="0.12">2.0</text>
<line x1="382.9" y1="26.50" x2="385.29999999999995" y2="26.50" stroke="#2a2a2a" stroke-width="1"/>
<line x1="391.50" y1="248.6" x2="391.50" y2="244.4" stroke="#2a2a2a" stroke-width="1"/>
<text transform="translate(391.90,261.90) scale(1,1.12)" text-anchor="middle" font-family="Liberation Serif, serif" font-size="10.1" fill="#1e1e1e" stroke="#1e1e1e" stroke-width="0.12">0</text>
<line x1="400.93" y1="248.6" x2="400.93" y2="246.4" stroke="#2a2a2a" stroke-width="1"/>
<line x1="410.36" y1="248.6" x2="410.36" y2="244.4" stroke="#2a2a2a" stroke-width="1"/>
<text transform="translate(410.76,261.90) scale(1,1.12)" text-anchor="middle" font-family="Liberation Serif, serif" font-size="10.1" fill="#1e1e1e" stroke="#1e1e1e" stroke-width="0.12">2</text>
<line x1="419.79" y1="248.6" x2="419.79" y2="246.4" stroke="#2a2a2a" stroke-width="1"/>
<line x1="429.22" y1="248.6" x2="429.22" y2="244.4" stroke="#2a2a2a" stroke-width="1"/>
<text transform="translate(429.62,261.90) scale(1,1.12)" text-anchor="middle" font-family="Liberation Serif, serif" font-size="10.1" fill="#1e1e1e" stroke="#1e1e1e" stroke-width="0.12">4</text>
<line x1="438.65" y1="248.6" x2="438.65" y2="246.4" stroke="#2a2a2a" stroke-width="1"/>
<line x1="448.08" y1="248.6" x2="448.08" y2="244.4" stroke="#2a2a2a" stroke-width="1"/>
<text transform="translate(448.48,261.90) scale(1,1.12)" text-anchor="middle" font-family="Liberation Serif, serif" font-size="10.1" fill="#1e1e1e" stroke="#1e1e1e" stroke-width="0.12">6</text>
<line x1="457.51" y1="248.6" x2="457.51" y2="246.4" stroke="#2a2a2a" stroke-width="1"/>
<line x1="466.94" y1="248.6" x2="466.94" y2="244.4" stroke="#2a2a2a" stroke-width="1"/>
<text transform="translate(467.34,261.90) scale(1,1.12)" text-anchor="middle" font-family="Liberation Serif, serif" font-size="10.1" fill="#1e1e1e" stroke="#1e1e1e" stroke-width="0.12">8</text>
<line x1="476.37" y1="248.6" x2="476.37" y2="246.4" stroke="#2a2a2a" stroke-width="1"/>
<line x1="485.80" y1="248.6" x2="485.80" y2="244.4" stroke="#2a2a2a" stroke-width="1"/>
<text transform="translate(486.20,261.90) scale(1,1.12)" text-anchor="middle" font-family="Liberation Serif, serif" font-size="10.1" fill="#1e1e1e" stroke="#1e1e1e" stroke-width="0.12">10</text>
<line x1="495.23" y1="248.6" x2="495.23" y2="246.4" stroke="#2a2a2a" stroke-width="1"/>
<line x1="504.66" y1="248.6" x2="504.66" y2="244.4" stroke="#2a2a2a" stroke-width="1"/>
<text transform="translate(505.06,261.90) scale(1,1.12)" text-anchor="middle" font-family="Liberation Serif, serif" font-size="10.1" fill="#1e1e1e" stroke="#1e1e1e" stroke-width="0.12">12</text>
<line x1="514.09" y1="248.6" x2="514.09" y2="246.4" stroke="#2a2a2a" stroke-width="1"/>
<line x1="523.52" y1="248.6" x2="523.52" y2="244.4" stroke="#2a2a2a" stroke-width="1"/>
<text transform="translate(523.92,261.90) scale(1,1.12)" text-anchor="middle" font-family="Liberation Serif, serif" font-size="10.1" fill="#1e1e1e" stroke="#1e1e1e" stroke-width="0.12">14</text>
<line x1="532.95" y1="248.6" x2="532.95" y2="246.4" stroke="#2a2a2a" stroke-width="1"/>
<line x1="542.38" y1="248.6" x2="542.38" y2="244.4" stroke="#2a2a2a" stroke-width="1"/>
<text transform="translate(542.78,261.90) scale(1,1.12)" text-anchor="middle" font-family="Liberation Serif, serif" font-size="10.1" fill="#1e1e1e" stroke="#1e1e1e" stroke-width="0.12">16</text>
<line x1="551.81" y1="248.6" x2="551.81" y2="246.4" stroke="#2a2a2a" stroke-width="1"/>
<line x1="561.24" y1="248.6" x2="561.24" y2="244.4" stroke="#2a2a2a" stroke-width="1"/>
<text transform="translate(561.64,261.90) scale(1,1.12)" text-anchor="middle" font-family="Liberation Serif, serif" font-size="10.1" fill="#1e1e1e" stroke="#1e1e1e" stroke-width="0.12">18</text>
<line x1="570.67" y1="248.6" x2="570.67" y2="246.4" stroke="#2a2a2a" stroke-width="1"/>
<line x1="580.10" y1="248.6" x2="580.10" y2="244.4" stroke="#2a2a2a" stroke-width="1"/>
<text transform="translate(580.50,261.90) scale(1,1.12)" text-anchor="middle" font-family="Liberation Serif, serif" font-size="10.1" fill="#1e1e1e" stroke="#1e1e1e" stroke-width="0.12">20</text>
<line x1="589.53" y1="248.6" x2="589.53" y2="246.4" stroke="#2a2a2a" stroke-width="1"/>
<line x1="598.96" y1="248.6" x2="598.96" y2="244.4" stroke="#2a2a2a" stroke-width="1"/>
<text transform="translate(599.36,261.90) scale(1,1.12)" text-anchor="middle" font-family="Liberation Serif, serif" font-size="10.1" fill="#1e1e1e" stroke="#1e1e1e" stroke-width="0.12">22</text>
<line x1="608.39" y1="248.6" x2="608.39" y2="246.4" stroke="#2a2a2a" stroke-width="1"/>
<line x1="617.82" y1="248.6" x2="617.82" y2="244.4" stroke="#2a2a2a" stroke-width="1"/>
<text transform="translate(618.22,261.90) scale(1,1.12)" text-anchor="middle" font-family="Liberation Serif, serif" font-size="10.1" fill="#1e1e1e" stroke="#1e1e1e" stroke-width="0.12">24</text>
<line x1="627.25" y1="248.6" x2="627.25" y2="246.4" stroke="#2a2a2a" stroke-width="1"/>
<line x1="636.68" y1="248.6" x2="636.68" y2="244.4" stroke="#2a2a2a" stroke-width="1"/>
<text transform="translate(637.08,261.90) scale(1,1.12)" text-anchor="middle" font-family="Liberation Serif, serif" font-size="10.1" fill="#1e1e1e" stroke="#1e1e1e" stroke-width="0.12">26</text>
<line x1="646.11" y1="248.6" x2="646.11" y2="246.4" stroke="#2a2a2a" stroke-width="1"/>
<line x1="655.54" y1="248.6" x2="655.54" y2="244.4" stroke="#2a2a2a" stroke-width="1"/>
<text transform="translate(655.94,261.90) scale(1,1.12)" text-anchor="middle" font-family="Liberation Serif, serif" font-size="10.1" fill="#1e1e1e" stroke="#1e1e1e" stroke-width="0.12">28</text>
<line x1="664.97" y1="248.6" x2="664.97" y2="246.4" stroke="#2a2a2a" stroke-width="1"/>
<line x1="674.40" y1="248.6" x2="674.40" y2="244.4" stroke="#2a2a2a" stroke-width="1"/>
<text transform="translate(674.80,261.90) scale(1,1.12)" text-anchor="middle" font-family="Liberation Serif, serif" font-size="10.1" fill="#1e1e1e" stroke="#1e1e1e" stroke-width="0.12">30</text>
<text transform="translate(512.90,282.30) scale(1,1.03)" text-anchor="start" font-family="Liberation Serif, serif" font-size="12.8" fill="#1e1e1e" stroke="#1e1e1e" stroke-width="0.2">Time(h)</text>
<text x="397.4" y="29.1" font-family="Liberation Serif, serif" font-size="14.5" font-weight="bold" fill="#1a1a1a">b</text>
<text transform="translate(356.9,127.0) rotate(-90) scale(0.93,1)" text-anchor="middle" font-family="Liberation Serif, serif" font-size="13.0" letter-spacing="0.3" fill="#1e1e1e" stroke="#1e1e1e" stroke-width="0.15">NO<tspan font-size="8.6" dy="3.0">2</tspan><tspan font-size="8" dy="-8.0" dx="0">−</tspan><tspan dy="5.0" dx="0">-N Concentration(mg/L)</tspan></text>
<polyline points="391.50,198.60 410.36,55.18 429.22,68.19 448.08,111.34 466.94,120.47 485.80,130.25 504.66,127.74 523.52,120.63 542.38,116.19 561.24,143.66 580.10,126.13 598.96,133.16 636.68,131.30 674.40,131.30" fill="none" stroke="#bcbcbc" stroke-width="0.9"/>
<polyline points="391.50,198.60 410.36,99.22 429.22,62.05 448.08,109.72 466.94,102.78 485.80,95.18 504.66,164.26 523.52,184.22 542.38,204.26 561.24,205.07 580.10,204.26 598.96,205.07 636.68,205.07 674.40,205.07" fill="none" stroke="#f8c0c2" stroke-width="0.9"/>
<polyline points="391.50,198.60 410.36,118.61 429.22,96.31 448.08,123.46 466.94,150.29 485.80,175.98 504.66,199.90 523.52,196.34 542.38,199.90 561.24,201.84 580.10,204.26 598.96,205.07 636.68,205.07 674.40,205.07" fill="none" stroke="#b2cbf2" stroke-width="0.9"/>
<polyline points="391.50,199.41 410.36,91.14 429.22,55.99 448.08,110.53 466.94,127.74 485.80,146.57 504.66,199.90 523.52,200.22 542.38,204.26 561.24,203.45 580.10,199.17 598.96,204.66 636.68,205.07 674.40,204.66" fill="none" stroke="#b0e0c8" stroke-width="0.9"/>
<polyline points="391.50,198.60 410.36,96.31 429.22,55.18 448.08,104.88 466.94,135.01 485.80,163.05 504.66,176.87 523.52,205.47 542.38,205.07 561.24,205.07 580.10,205.07 598.96,205.07 636.68,205.31 674.40,204.66" fill="none" stroke="#dcc0f4" stroke-width="0.9"/>
<polyline points="391.50,197.80 410.36,104.07 429.22,75.38 448.08,118.61 466.94,125.32 485.80,132.59 504.66,193.92 523.52,200.22 542.38,204.26 561.24,198.77 580.10,204.26 598.96,204.66 636.68,202.00 674.40,204.66" fill="none" stroke="#eed594" stroke-width="0.9"/>
<path d="M429.22,64.15V72.23M427.02,64.15H431.42M427.02,72.23H431.42" stroke="#bcbcbc" stroke-width="0.8" fill="none"/>
<path d="M636.68,111.91V150.69M634.48,111.91H638.88M634.48,150.69H638.88" stroke="#bcbcbc" stroke-width="0.8" fill="none"/>
<path d="M674.40,111.91V150.69M672.20,111.91H676.60M672.20,150.69H676.60" stroke="#bcbcbc" stroke-width="0.8" fill="none"/>
<path d="M429.22,45.89V78.21M427.02,45.89H431.42M427.02,78.21H431.42" stroke="#f8c0c2" stroke-width="0.8" fill="none"/>
<path d="M466.94,88.23V117.32M464.74,88.23H469.14M464.74,117.32H469.14" stroke="#f8c0c2" stroke-width="0.8" fill="none"/>
<path d="M410.36,100.84V136.39M408.16,100.84H412.56M408.16,136.39H412.56" stroke="#b2cbf2" stroke-width="0.8" fill="none"/>
<path d="M429.22,85.81V106.82M427.02,85.81H431.42M427.02,106.82H431.42" stroke="#b2cbf2" stroke-width="0.8" fill="none"/>
<path d="M429.22,43.87V68.11M427.02,43.87H431.42M427.02,68.11H431.42" stroke="#b0e0c8" stroke-width="0.8" fill="none"/>
<path d="M429.22,47.10V63.26M427.02,47.10H431.42M427.02,63.26H431.42" stroke="#dcc0f4" stroke-width="0.8" fill="none"/>
<path d="M448.08,95.18V114.57M445.88,95.18H450.28M445.88,114.57H450.28" stroke="#dcc0f4" stroke-width="0.8" fill="none"/>
<path d="M429.22,71.34V79.42M427.02,71.34H431.42M427.02,79.42H431.42" stroke="#eed594" stroke-width="0.8" fill="none"/>
<path d="M485.80,116.43V148.75M483.60,116.43H488.00M483.60,148.75H488.00" stroke="#eed594" stroke-width="0.8" fill="none"/>
<path d="M561.24,194.73V202.81M559.04,194.73H563.44M559.04,202.81H563.44" stroke="#eed594" stroke-width="0.8" fill="none"/>
<rect x="388.80" y="195.90" width="5.40" height="5.40" fill="#4d4d4d"/>
<rect x="407.66" y="52.48" width="5.40" height="5.40" fill="#4d4d4d"/>
<rect x="426.52" y="65.49" width="5.40" height="5.40" fill="#4d4d4d"/>
<rect x="445.38" y="108.64" width="5.40" height="5.40" fill="#4d4d4d"/>
<rect x="464.24" y="117.77" width="5.40" height="5.40" fill="#4d4d4d"/>
<rect x="483.10" y="127.55" width="5.40" height="5.40" fill="#4d4d4d"/>
<rect x="501.96" y="125.04" width="5.40" height="5.40" fill="#4d4d4d"/>
<rect x="520.82" y="117.93" width="5.40" height="5.40" fill="#4d4d4d"/>
<rect x="539.68" y="113.49" width="5.40" height="5.40" fill="#4d4d4d"/>
<rect x="558.54" y="140.96" width="5.40" height="5.40" fill="#4d4d4d"/>
<rect x="577.40" y="123.43" width="5.40" height="5.40" fill="#4d4d4d"/>
<rect x="596.26" y="130.46" width="5.40" height="5.40" fill="#4d4d4d"/>
<rect x="633.98" y="128.60" width="5.40" height="5.40" fill="#4d4d4d"/>
<rect x="671.70" y="128.60" width="5.40" height="5.40" fill="#4d4d4d"/>
<circle cx="391.50" cy="198.60" r="2.85" fill="#ec3340"/>
<circle cx="410.36" cy="99.22" r="2.85" fill="#ec3340"/>
<circle cx="429.22" cy="62.05" r="2.85" fill="#ec3340"/>
<circle cx="448.08" cy="109.72" r="2.85" fill="#ec3340"/>
<circle cx="466.94" cy="102.78" r="2.85" fill="#ec3340"/>
<circle cx="485.80" cy="95.18" r="2.85" fill="#ec3340"/>
<circle cx="504.66" cy="164.26" r="2.85" fill="#ec3340"/>
<circle cx="523.52" cy="184.22" r="2.85" fill="#ec3340"/>
<circle cx="542.38" cy="204.26" r="2.85" fill="#ec3340"/>
<circle cx="561.24" cy="205.07" r="2.85" fill="#ec3340"/>
<circle cx="580.10" cy="204.26" r="2.85" fill="#ec3340"/>
<circle cx="598.96" cy="205.07" r="2.85" fill="#ec3340"/>
<circle cx="636.68" cy="205.07" r="2.85" fill="#ec3340"/>
<circle cx="674.40" cy="205.07" r="2.85" fill="#ec3340"/>
<path d="M391.50,195.00L395.10,201.30L387.90,201.30Z" fill="#1c66dc"/>
<path d="M410.36,115.01L413.96,121.31L406.76,121.31Z" fill="#1c66dc"/>
<path d="M429.22,92.71L432.82,99.01L425.62,99.01Z" fill="#1c66dc"/>
<path d="M448.08,119.86L451.68,126.16L444.48,126.16Z" fill="#1c66dc"/>
<path d="M466.94,146.69L470.54,152.99L463.34,152.99Z" fill="#1c66dc"/>
<path d="M485.80,172.38L489.40,178.68L482.20,178.68Z" fill="#1c66dc"/>
<path d="M504.66,196.30L508.26,202.60L501.06,202.60Z" fill="#1c66dc"/>
<path d="M523.52,192.74L527.12,199.04L519.92,199.04Z" fill="#1c66dc"/>
<path d="M542.38,196.30L545.98,202.60L538.78,202.60Z" fill="#1c66dc"/>
<path d="M561.24,198.24L564.84,204.54L557.64,204.54Z" fill="#1c66dc"/>
<path d="M580.10,200.66L583.70,206.96L576.50,206.96Z" fill="#1c66dc"/>
<path d="M598.96,201.47L602.56,207.77L595.36,207.77Z" fill="#1c66dc"/>
<path d="M636.68,201.47L640.28,207.77L633.08,207.77Z" fill="#1c66dc"/>
<path d="M674.40,201.47L678.00,207.77L670.80,207.77Z" fill="#1c66dc"/>
<path d="M391.50,203.01L395.10,196.71L387.90,196.71Z" fill="#2a9a68"/>
<path d="M410.36,94.74L413.96,88.44L406.76,88.44Z" fill="#2a9a68"/>
<path d="M429.22,59.59L432.82,53.29L425.62,53.29Z" fill="#2a9a68"/>
<path d="M448.08,114.13L451.68,107.83L444.48,107.83Z" fill="#2a9a68"/>
<path d="M466.94,131.34L470.54,125.04L463.34,125.04Z" fill="#2a9a68"/>
<path d="M485.80,150.17L489.40,143.87L482.20,143.87Z" fill="#2a9a68"/>
<path d="M504.66,203.50L508.26,197.20L501.06,197.20Z" fill="#2a9a68"/>
<path d="M523.52,203.82L527.12,197.52L519.92,197.52Z" fill="#2a9a68"/>
<path d="M542.38,207.86L545.98,201.56L538.78,201.56Z" fill="#2a9a68"/>
<path d="M561.24,207.05L564.84,200.75L557.64,200.75Z" fill="#2a9a68"/>
<path d="M580.10,202.77L583.70,196.47L576.50,196.47Z" fill="#2a9a68"/>
<path d="M598.96,208.26L602.56,201.96L595.36,201.96Z" fill="#2a9a68"/>
<path d="M636.68,208.67L640.28,202.37L633.08,202.37Z" fill="#2a9a68"/>
<path d="M674.40,208.26L678.00,201.96L670.80,201.96Z" fill="#2a9a68"/>
<path d="M391.50,195.30L395.20,198.60L391.50,201.90L387.80,198.60Z" fill="#a866e0"/>
<path d="M410.36,93.01L414.06,96.31L410.36,99.61L406.66,96.31Z" fill="#a866e0"/>
<path d="M429.22,51.88L432.92,55.18L429.22,58.48L425.52,55.18Z" fill="#a866e0"/>
<path d="M448.08,101.58L451.78,104.88L448.08,108.18L444.38,104.88Z" fill="#a866e0"/>
<path d="M466.94,131.71L470.64,135.01L466.94,138.31L463.24,135.01Z" fill="#a866e0"/>
<path d="M485.80,159.75L489.50,163.05L485.80,166.35L482.10,163.05Z" fill="#a866e0"/>
<path d="M504.66,173.57L508.36,176.87L504.66,180.17L500.96,176.87Z" fill="#a866e0"/>
<path d="M523.52,202.17L527.22,205.47L523.52,208.77L519.82,205.47Z" fill="#a866e0"/>
<path d="M542.38,201.77L546.08,205.07L542.38,208.37L538.68,205.07Z" fill="#a866e0"/>
<path d="M561.24,201.77L564.94,205.07L561.24,208.37L557.54,205.07Z" fill="#a866e0"/>
<path d="M580.10,201.77L583.80,205.07L580.10,208.37L576.40,205.07Z" fill="#a866e0"/>
<path d="M598.96,201.77L602.66,205.07L598.96,208.37L595.26,205.07Z" fill="#a866e0"/>
<path d="M636.68,202.01L640.38,205.31L636.68,208.61L632.98,205.31Z" fill="#a866e0"/>
<path d="M674.40,201.36L678.10,204.66L674.40,207.96L670.70,204.66Z" fill="#a866e0"/>
<path d="M387.90,197.80L394.20,194.20L394.20,201.40Z" fill="#d29e12"/>
<path d="M406.76,104.07L413.06,100.47L413.06,107.67Z" fill="#d29e12"/>
<path d="M425.62,75.38L431.92,71.78L431.92,78.98Z" fill="#d29e12"/>
<path d="M444.48,118.61L450.78,115.01L450.78,122.21Z" fill="#d29e12"/>
<path d="M463.34,125.32L469.64,121.72L469.64,128.92Z" fill="#d29e12"/>
<path d="M482.20,132.59L488.50,128.99L488.50,136.19Z" fill="#d29e12"/>
<path d="M501.06,193.92L507.36,190.32L507.36,197.52Z" fill="#d29e12"/>
<path d="M519.92,200.22L526.22,196.62L526.22,203.82Z" fill="#d29e12"/>
<path d="M538.78,204.26L545.08,200.66L545.08,207.86Z" fill="#d29e12"/>
<path d="M557.64,198.77L563.94,195.17L563.94,202.37Z" fill="#d29e12"/>
<path d="M576.50,204.26L582.80,200.66L582.80,207.86Z" fill="#d29e12"/>
<path d="M595.36,204.66L601.66,201.06L601.66,208.26Z" fill="#d29e12"/>
<path d="M633.08,202.00L639.38,198.40L639.38,205.60Z" fill="#d29e12"/>
<path d="M670.80,204.66L677.10,201.06L677.10,208.26Z" fill="#d29e12"/>
<line x1="575" y1="16.40" x2="602.7" y2="16.40" stroke="#bcbcbc" stroke-width="0.75"/>
<rect x="586.30" y="13.70" width="5.40" height="5.40" fill="#4d4d4d"/>
<text x="606.6" y="20.60" font-family="Liberation Serif, serif" font-size="12.9" fill="#1e1e1e" stroke="#1e1e1e" stroke-width="0.2">C/N=2</text>
<line x1="575" y1="31.60" x2="602.7" y2="31.60" stroke="#f8c0c2" stroke-width="0.75"/>
<circle cx="589.00" cy="31.60" r="2.85" fill="#ec3340"/>
<text x="606.6" y="35.80" font-family="Liberation Serif, serif" font-size="12.9" fill="#1e1e1e" stroke="#1e1e1e" stroke-width="0.2">C/N=4</text>
<line x1="575" y1="46.80" x2="602.7" y2="46.80" stroke="#b2cbf2" stroke-width="0.75"/>
<path d="M589.00,43.20L592.60,49.50L585.40,49.50Z" fill="#1c66dc"/>
<text x="606.6" y="51.00" font-family="Liberation Serif, serif" font-size="12.9" fill="#1e1e1e" stroke="#1e1e1e" stroke-width="0.2">C/N=5</text>
<line x1="575" y1="62.00" x2="602.7" y2="62.00" stroke="#b0e0c8" stroke-width="0.75"/>
<path d="M589.00,65.60L592.60,59.30L585.40,59.30Z" fill="#2a9a68"/>
<text x="606.6" y="66.20" font-family="Liberation Serif, serif" font-size="12.9" fill="#1e1e1e" stroke="#1e1e1e" stroke-width="0.2">C/N=6</text>
<line x1="575" y1="77.20" x2="602.7" y2="77.20" stroke="#dcc0f4" stroke-width="0.75"/>
<path d="M589.00,73.90L592.70,77.20L589.00,80.50L585.30,77.20Z" fill="#a866e0"/>
<text x="606.6" y="81.40" font-family="Liberation Serif, serif" font-size="12.9" fill="#1e1e1e" stroke="#1e1e1e" stroke-width="0.2">C/N=8</text>
<line x1="575" y1="92.40" x2="602.7" y2="92.40" stroke="#eed594" stroke-width="0.75"/>
<path d="M585.40,92.40L591.70,88.80L591.70,96.00Z" fill="#d29e12"/>
<text x="606.6" y="96.60" font-family="Liberation Serif, serif" font-size="12.9" fill="#1e1e1e" stroke="#1e1e1e" stroke-width="0.2">C/N=10</text>
</g>
</svg>
</body></html>
